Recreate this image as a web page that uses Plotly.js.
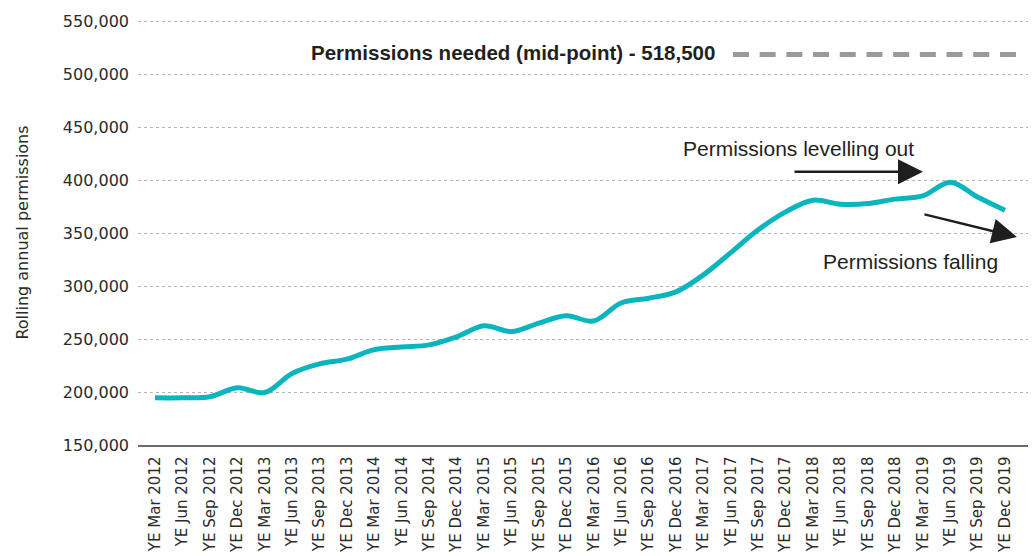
<!DOCTYPE html>
<html>
<head>
<meta charset="utf-8">
<script src="https://cdn.plot.ly/plotly-3.0.1.min.js"></script>
<style>
  html, body { margin: 0; padding: 0; background: #fff; }
  #chart { width: 1032px; height: 556px; }
</style>
</head>
<body>
<div id="chart"></div>
<script>
const categories = [
  "YE Mar 2012", "YE Jun 2012", "YE Sep 2012", "YE Dec 2012",
  "YE Mar 2013", "YE Jun 2013", "YE Sep 2013", "YE Dec 2013",
  "YE Mar 2014", "YE Jun 2014", "YE Sep 2014", "YE Dec 2014",
  "YE Mar 2015", "YE Jun 2015", "YE Sep 2015", "YE Dec 2015",
  "YE Mar 2016", "YE Jun 2016", "YE Sep 2016", "YE Dec 2016",
  "YE Mar 2017", "YE Jun 2017", "YE Sep 2017", "YE Dec 2017",
  "YE Mar 2018", "YE Jun 2018", "YE Sep 2018", "YE Dec 2018",
  "YE Mar 2019", "YE Jun 2019", "YE Sep 2019", "YE Dec 2019"
];
const permissions = [
  194500, 194500, 195500, 204000,
  199500, 217500, 226500, 231000,
  240000, 242500, 244500, 252000,
  262500, 257000, 265000, 272000,
  267000, 284000, 288500, 294500,
  310500, 331500, 353000, 370000,
  381000, 377200, 377800, 382000,
  385000, 398000, 384000, 371500
];
const neededMidpoint = 518500;
const neededLabel = "Permissions needed (mid-point) - 518,500";
const yTickValues = [150000, 200000, 250000, 300000, 350000, 400000, 450000, 500000, 550000];
const yTickLabels = ["150,000", "200,000", "250,000", "300,000", "350,000", "400,000", "450,000", "500,000", "550,000"];

const textColor = "#231f20";
const tickFont = { family: "DejaVu Sans, Liberation Sans, sans-serif", size: 15, color: "#2b2b2b" };

const trace = {
  type: "scatter",
  mode: "lines",
  x: categories,
  y: permissions,
  line: { color: "#0bb5be", width: 5, shape: "spline", smoothing: 1 },
  hoverinfo: "x+y",
  showlegend: false
};

const layout = {
  width: 1032,
  height: 556,
  margin: { l: 138, r: 4, t: 20, b: 111, pad: 0 },
  paper_bgcolor: "#ffffff",
  plot_bgcolor: "#ffffff",
  showlegend: false,
  xaxis: {
    type: "category",
    range: [-0.62, 31.84],
    tickangle: -90,
    tickfont: tickFont,
    showgrid: false,
    zeroline: false,
    showline: true,
    linecolor: "#6b6b6b",
    linewidth: 1.5,
    ticks: "",
    ticklabelstandoff: 4,
    fixedrange: true
  },
  yaxis: {
    range: [150000, 551000],
    tickvals: yTickValues,
    ticktext: yTickLabels,
    tickfont: { family: "DejaVu Sans, Liberation Sans, sans-serif", size: 16, color: "#2b2b2b" },
    showgrid: true,
    gridcolor: "#b3b3b3",
    gridwidth: 1,
    griddash: "3px,3px",
    zeroline: false,
    showline: false,
    ticks: "",
    ticklabelstandoff: 8,
    title: {
      text: "Rolling annual permissions",
      font: { family: "DejaVu Sans, Liberation Sans, sans-serif", size: 16, color: "#2b2b2b" },
      standoff: 30
    },
    fixedrange: true
  },
  shapes: [
    {
      type: "line",
      xref: "paper", yref: "y",
      x0: 0.6685, x1: 0.9876,
      y0: neededMidpoint, y1: neededMidpoint,
      line: { color: "#9a9a9a", width: 5, dash: "16px,10.7px" }
    }
  ],
  annotations: [
    {
      xref: "paper", yref: "y",
      x: 0.6506, y: neededMidpoint,
      xanchor: "right", yanchor: "middle",
      yshift: 2,
      text: "<b>" + neededLabel + "</b>",
      showarrow: false,
      font: { family: "Liberation Sans, Arial, sans-serif", size: 20.5, color: textColor }
    },
    {
      xref: "paper", yref: "paper",
      x: 0.7416, y: 0.6965,
      xanchor: "center", yanchor: "middle",
      text: "Permissions levelling out",
      showarrow: false,
      font: { family: "Liberation Sans, Arial, sans-serif", size: 21, color: textColor }
    },
    {
      xref: "paper", yref: "paper",
      x: 0.868, y: 0.4306,
      xanchor: "center", yanchor: "middle",
      text: "Permissions falling",
      showarrow: false,
      font: { family: "Liberation Sans, Arial, sans-serif", size: 21, color: textColor }
    },
    {
      xref: "paper", yref: "paper",
      x: 0.882, y: 0.643,
      text: "",
      showarrow: true,
      arrowhead: 2, arrowsize: 2, arrowwidth: 2.5,
      arrowcolor: "#1e1e1e",
      ax: -130, ay: 0,
      standoff: 0, startstandoff: 0
    },
    {
      xref: "paper", yref: "paper",
      x: 0.9876, y: 0.4894,
      text: "",
      showarrow: true,
      arrowhead: 2, arrowsize: 2, arrowwidth: 2.5,
      arrowcolor: "#1e1e1e",
      ax: -94, ay: -23,
      standoff: 0, startstandoff: 0
    }
  ]
};

Plotly.newPlot("chart", [trace], layout, { displayModeBar: false, staticPlot: true });
</script>
</body>
</html>
